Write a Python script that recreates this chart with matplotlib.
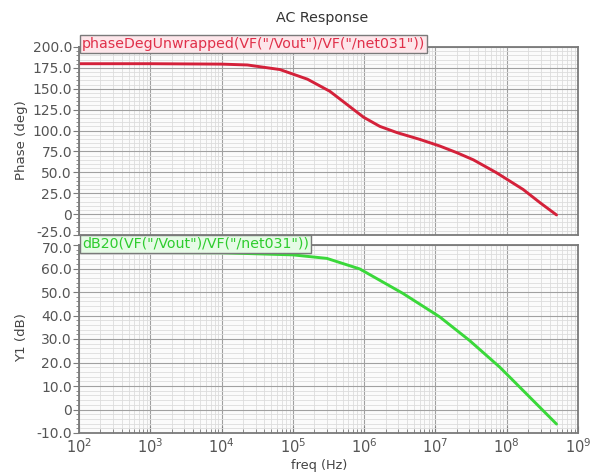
import matplotlib
matplotlib.use("Agg")
import matplotlib.pyplot as plt
import matplotlib.transforms as mtransforms
from matplotlib.ticker import AutoMinorLocator, LogLocator, FixedLocator, NullFormatter

# ---------------- data ----------------
title = "AC Response"
phase_label = 'phaseDegUnwrapped(VF("/Vout")/VF("/net031"))'
gain_label = 'dB20(VF("/Vout")/VF("/net031"))'

phase_freq = [1e2, 1e3, 1e4, 2.3e4, 6.6e4, 1.6e5, 3.3e5, 9.8e5, 1.66e6, 2.9e6,
              6.0e6, 1.15e7, 2.0e7, 3.4e7, 7.2e7, 1.7e8, 2.95e8, 5.0e8]
phase_deg = [180, 180, 179.5, 178.5, 173, 161.5, 147, 116, 105, 97.5,
             89.5, 81.5, 73.5, 65, 49.5, 29.5, 13.5, -1]

gain_freq = [1e2, 1e3, 1e4, 1e5, 3e5, 8.7e5, 3.5e6, 1.15e7, 3e7, 8e7, 1.9e8, 5e8]
gain_db = [66.8, 66.8, 66.7, 65.8, 64.3, 59.8, 49.4, 39.4, 29.4, 18, 6.6, -6.2]

phase_ticks = [-25, 0, 25, 50, 75, 100, 125, 150, 175, 200]
gain_ticks = [-10, 0, 10, 20, 30, 40, 50, 60, 70]
x_decades = [2, 3, 4, 5, 6, 7, 8, 9]

# ---------------- figure ----------------
W, H = 601, 474
fig = plt.figure(figsize=(W / 100, H / 100), dpi=100)
fig.patch.set_facecolor("white")

L, R = 79, 578
ax1 = fig.add_axes([L / W, 1 - 235 / H, (R - L) / W, (235 - 47) / H])
ax2 = fig.add_axes([L / W, 1 - 433 / H, (R - L) / W, (433 - 245) / H])

tick_col = "#555555"
frame_col = "#7a7a7a"


def fmt(v):
    return "0" if v == 0 else f"{v:.1f}"


for ax, ticks in ((ax1, phase_ticks), (ax2, gain_ticks)):
    ax.set_facecolor("#fbfbfb")
    ax.set_xscale("log")
    ax.set_xlim(1e2, 1e9)
    ax.set_ylim(ticks[0], ticks[-1])
    ax.yaxis.set_major_locator(FixedLocator(ticks))
    ax.set_yticklabels([fmt(t) for t in ticks])
    ax.yaxis.set_minor_locator(AutoMinorLocator(5))
    ax.xaxis.set_major_locator(FixedLocator([10.0 ** d for d in x_decades]))
    ax.xaxis.set_minor_locator(LogLocator(base=10, subs=range(2, 10), numticks=20))
    ax.xaxis.set_minor_formatter(NullFormatter())
    ax.grid(which="major", color="#a0a0a0", lw=0.8)
    ax.grid(which="minor", color="#dcdcdc", lw=0.6)
    ax.set_axisbelow(True)
    for s in ax.spines.values():
        s.set_color(frame_col)
        s.set_linewidth(1.3)
    ax.tick_params(axis="y", which="major", direction="out", length=4,
                   color=frame_col, labelcolor=tick_col, labelsize=10, pad=1)
    ax.tick_params(axis="y", which="minor", direction="out", length=2, color=frame_col)
    ax.tick_params(axis="x", which="both", direction="in", color=frame_col)

ax1.tick_params(axis="x", which="both", length=0, labelbottom=False)
ax2.tick_params(axis="x", which="major", length=5, labelcolor=tick_col, labelsize=10.5, pad=3)
ax2.tick_params(axis="x", which="minor", length=3)
ax2.set_xticklabels([f"$10^{{{d}}}$" for d in x_decades])

# nudge the two labels that meet between the panels
lab_bottom_top = ax1.get_yticklabels()[0]
lab_bottom_top.set_transform(lab_bottom_top.get_transform() +
                             mtransforms.ScaledTranslation(0, 4 / 100, fig.dpi_scale_trans))
lab_top_bottom = ax2.get_yticklabels()[-1]
lab_top_bottom.set_transform(lab_top_bottom.get_transform() +
                             mtransforms.ScaledTranslation(0, -3 / 100, fig.dpi_scale_trans))

ax1.plot(phase_freq, phase_deg, color="#d4213a", lw=2.1, solid_capstyle="round")
ax2.plot(gain_freq, gain_db, color="#3ad83a", lw=2.1, solid_capstyle="round")

# legend tabs
ax1.text(0.006, 1.0 + 3 / 188, phase_label, transform=ax1.transAxes, ha="left", va="center",
         fontsize=10.2, color="#e0304a",
         bbox=dict(boxstyle="square,pad=0.15", facecolor="#fde6ea", edgecolor=frame_col, lw=1.0),
         clip_on=False, zorder=5)
ax2.text(0.006, 1.0 + 1 / 188, gain_label, transform=ax2.transAxes, ha="left", va="center",
         fontsize=10.2, color="#2ecc2e",
         bbox=dict(boxstyle="square,pad=0.15", facecolor="#e6fbe6", edgecolor=frame_col, lw=1.0),
         clip_on=False, zorder=5)

fig.text(322 / W, 1 - 18 / H, title, ha="center", va="center", fontsize=10.3, color="#333333")
fig.text(22 / W, 1 - 140 / H, "Phase (deg)", rotation=90, ha="center", va="center",
         fontsize=9.6, color="#444444")
fig.text(22 / W, 1 - 338 / H, "Y1 (dB)", rotation=90, ha="center", va="center",
         fontsize=9.6, color="#444444")
fig.text(319 / W, 1 - 466 / H, "freq (Hz)", ha="center", va="center",
         fontsize=9.3, color="#444444")

fig.savefig("out.png", dpi=100)
